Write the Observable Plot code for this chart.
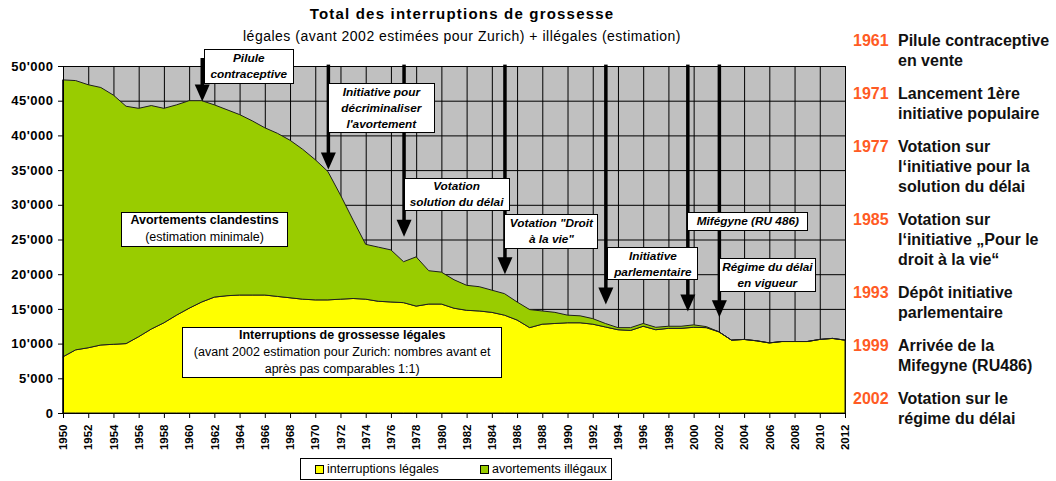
<!DOCTYPE html>
<html><head><meta charset="utf-8">
<script src="https://cdn.jsdelivr.net/npm/d3@7"></script>
<script src="https://cdn.jsdelivr.net/npm/@observablehq/plot@0.6"></script>
<style>
body{margin:0;background:#fff;font-family:"Liberation Sans",Arial,sans-serif;}
#wrap{position:relative;width:1056px;height:481px;overflow:hidden;background:#fff;}
#title{position:absolute;left:0;width:924px;top:5px;text-align:center;font-weight:bold;font-size:15px;letter-spacing:1.2px;line-height:18px;color:#000;}
#subtitle{position:absolute;left:0;width:924px;top:28px;text-align:center;font-size:14px;letter-spacing:0.5px;line-height:16px;color:#000;}
#chart{position:absolute;left:0;top:45px;}
.box{position:absolute;box-sizing:border-box;border:1px solid #000;background:#fff;display:flex;flex-direction:column;justify-content:center;align-items:center;text-align:center;white-space:nowrap;color:#000;}
.ev{font-style:italic;font-weight:bold;font-size:11.8px;line-height:16px;}
.lab{font-size:12.5px;line-height:17px;}
.lab .l0{font-weight:bold;}
.side-year{position:absolute;left:853px;color:#ff5b24;font-weight:bold;font-size:16px;line-height:20px;}
.side-text{position:absolute;left:898px;font-weight:bold;font-size:16px;line-height:20px;color:#111;white-space:nowrap;}
#legend{position:absolute;left:300px;top:458px;width:312px;height:22px;box-sizing:border-box;border:1px solid #000;background:#fff;font-size:12.5px;}
.sw{position:absolute;top:6px;width:9px;height:9px;box-sizing:border-box;border:1px solid #000;}
.lt{position:absolute;top:2px;line-height:16px;white-space:nowrap;}
#chart g[aria-label="y-axis tick label"] text{letter-spacing:0.5px;}
</style>
</head><body>
<div id="wrap">
  <div id="title">Total des interruptions de grossesse</div>
  <div id="subtitle">légales (avant 2002 estimées pour Zurich) + illégales (estimation)</div>
  <div id="chart"></div>
  <div id="legend"></div>
</div>
<script>
// ---------- data ----------
const years = [1950,1951,1952,1953,1954,1955,1956,1957,1958,1959,
  1960,1961,1962,1963,1964,1965,1966,1967,1968,1969,
  1970,1971,1972,1973,1974,1975,1976,1977,1978,1979,
  1980,1981,1982,1983,1984,1985,1986,1987,1988,1989,
  1990,1991,1992,1993,1994,1995,1996,1997,1998,1999,
  2000,2001,2002,2003,2004,2005,2006,2007,2008,2009,
  2010,2011,2012];
const legal = [8100,9100,9400,9800,9900,10000,11000,12100,13000,14100,
  15100,16000,16700,16900,17000,17000,17000,16800,16600,16400,
  16300,16300,16400,16500,16400,16100,16000,15900,15400,15700,
  15700,15100,14800,14700,14500,14100,13400,12300,12800,12900,
  13000,13000,12800,12400,12000,11900,12500,12000,12200,12200,
  12350,12300,11700,10500,10600,10400,10100,10300,10300,10300,
  10600,10750,10500];
const illegal = [39900,38800,37900,37100,35900,34200,32900,32200,30900,30300,
  29900,29000,27700,26800,26000,25100,24100,23500,22700,21600,
  20200,18500,15000,11300,7900,7800,7500,5900,7100,4800,
  4600,4100,3600,3500,3200,3100,2600,2600,1900,1600,
  1100,1000,800,500,300,400,400,350,300,300,
  350,150,0,0,0,0,0,0,0,0,
  0,0,0];
const seriesNames = ["interruptions légales", "avortements illégaux"];
const seriesColors = ["#ffff00", "#99cc00"];

const xTicks = [1950,1952,1954,1956,1958,1960,1962,1964,1966,1968,1970,1972,1974,1976,1978,1980,
  1982,1984,1986,1988,1990,1992,1994,1996,1998,2000,2002,2004,2006,2008,2010,2012];
const yTicks = [0,5000,10000,15000,20000,25000,30000,35000,40000,45000,50000];
const yTickLabels = ["0","5'000","10'000","15'000","20'000","25'000","30'000","35'000","40'000","45'000","50'000"];

// events (arrows)
const eventYears = [1961, 1971, 1977, 1985, 1993, 1999.5, 2002];
const eventTips = [45100, 35300, 25600, 20200, 15850, 14850, 14000];
const eventShaftTops = [51150, 50200, 50200, 50200, 50200, 50200, 50200];
const eventBoxTops = [52450, 47550, 33900, 28700, 23900, 29000, 22300];
const eventBoxLines = [["Pilule","contraceptive"],["Initiative pour","décriminaliser","l'avortement"],
  ["Votation","solution du délai"],["Votation \"Droit","à la vie\""],["Initiative","parlementaire"],
  ["Mifégyne (RU 486)"],["Régime du délai","en vigueur"]];

// area labels
const areaLabelYears = [1954.6, 1959.45];
const areaLabelTops = [29000, 12400];
const areaLabelLines = [["Avortements clandestins","(estimation minimale)"],
  ["Interruptions de grossesse légales","(avant 2002 estimation pour Zurich: nombres avant et","après pas comparables 1:1)"]];

// side panel
const sideYears = ["1961","1971","1977","1985","1993","1999","2002"];
const sideLines = [["Pilule contraceptive","en vente"],["Lancement 1ère","initiative populaire"],
  ["Votation sur","l‘initiative pour la","solution du délai"],["Votation sur","l‘initiative „Pour le","droit à la vie“"],
  ["Dépôt initiative","parlementaire"],["Arrivée de la","Mifegyne (RU486)"],["Votation sur le","régime du délai"]];

// ---------- layout (styles) ----------
const SVG_TOP = 45;
const eventBoxW = [90, 107, 106, 94, 91, 121, 97];
const eventBoxH = [35, 50, 33, 35, 33, 19, 34];
const eventBoxDx = [2, 0, 0, 0, 2, 0, 0];
const areaBoxW = [167, 320];
const areaBoxH = [35, 51];

// ---------- build ----------
const rows = years.flatMap((yr, i) => [
  {year: yr, series: seriesNames[0], value: legal[i]},
  {year: yr, series: seriesNames[1], value: illegal[i]}
]);
const events = eventYears.map((yr, i) => ({year: yr, tip: eventTips[i], top: eventShaftTops[i]}));

const headSymbol = {draw(ctx) { ctx.moveTo(0, 1); ctx.lineTo(-7.5, -16); ctx.lineTo(7.5, -16); ctx.closePath(); }};

const plot = Plot.plot({
  width: 1056, height: 410,
  marginLeft: 63, marginRight: 211, marginTop: 21, marginBottom: 42,
  style: {background: "transparent", fontFamily: "'Liberation Sans', Arial, sans-serif", overflow: "visible", color: "#000"},
  x: {domain: [1950, 2012]},
  y: {domain: [0, 50000]},
  color: {domain: seriesNames, range: seriesColors},
  marks: [
    Plot.frame({fill: "#c0c0c0", stroke: "#8a8a8a"}),
    Plot.gridY(yTicks, {stroke: "#000", strokeOpacity: 1, strokeWidth: 1}),
    Plot.gridX(xTicks, {stroke: "#000", strokeOpacity: 1, strokeWidth: 1}),
    Plot.areaY(rows, {x: "year", y: "value", z: "series", fill: "series", order: seriesNames,
      stroke: "#1e1e1e", strokeWidth: 1}),
    Plot.ruleX(events, {x: "year", y1: d => d.tip + 1500, y2: "top", stroke: "#000", strokeWidth: 3.5}),
    Plot.dot(events, {x: "year", y: "tip", symbol: headSymbol, r: 6, fill: "#000", stroke: "none"}),
    Plot.ruleX([1950], {stroke: "#000"}),
    Plot.ruleY([0], {stroke: "#000"}),
    Plot.axisY({ticks: yTicks, tickFormat: d => yTickLabels[yTicks.indexOf(d)], fontWeight: "bold", fontSize: 13,
      tickSize: 5, tickPadding: 5, label: null, stroke: "#000"}),
    Plot.axisX({ticks: xTicks, tickFormat: d => String(d), tickRotate: -90, fontWeight: "bold", fontSize: 11.5,
      tickSize: 5, tickPadding: 6, label: null, stroke: "#000"})
  ]
});
document.getElementById("chart").appendChild(plot);

const sx = plot.scale("x"), sy = plot.scale("y");
const wrap = document.getElementById("wrap");

function addBox(cls, left, topPx, w, h, lines) {
  const b = document.createElement("div");
  b.className = "box " + cls;
  b.style.left = left + "px"; b.style.top = topPx + "px";
  b.style.width = w + "px"; b.style.height = h + "px";
  lines.forEach((t, j) => {
    const s = document.createElement("div");
    s.className = "l" + j;
    s.textContent = t;
    b.appendChild(s);
  });
  wrap.appendChild(b);
}
eventYears.forEach((yr, i) => {
  addBox("ev", sx.apply(yr) + eventBoxDx[i], SVG_TOP + sy.apply(eventBoxTops[i]), eventBoxW[i], eventBoxH[i], eventBoxLines[i]);
});
areaLabelYears.forEach((yr, i) => {
  addBox("lab", sx.apply(yr), SVG_TOP + sy.apply(areaLabelTops[i]), areaBoxW[i], areaBoxH[i], areaLabelLines[i]);
});

// side panel
let cursorY = 30.5;
sideYears.forEach((yr, i) => {
  const y = document.createElement("div");
  y.className = "side-year"; y.style.top = cursorY + "px"; y.textContent = yr;
  wrap.appendChild(y);
  sideLines[i].forEach((t, j) => {
    const d = document.createElement("div");
    d.className = "side-text"; d.style.top = (cursorY + j * 20) + "px"; d.textContent = t;
    wrap.appendChild(d);
  });
  cursorY += sideLines[i].length * 20 + 13;
});

// legend
const legend = document.getElementById("legend");
const swX = [14, 179];
seriesNames.forEach((name, i) => {
  const sw = document.createElement("div");
  sw.className = "sw"; sw.style.left = swX[i] + "px"; sw.style.background = seriesColors[i];
  legend.appendChild(sw);
  const t = document.createElement("div");
  t.className = "lt"; t.style.left = (swX[i] + 12) + "px"; t.textContent = name;
  legend.appendChild(t);
});
</script>
</body></html>
